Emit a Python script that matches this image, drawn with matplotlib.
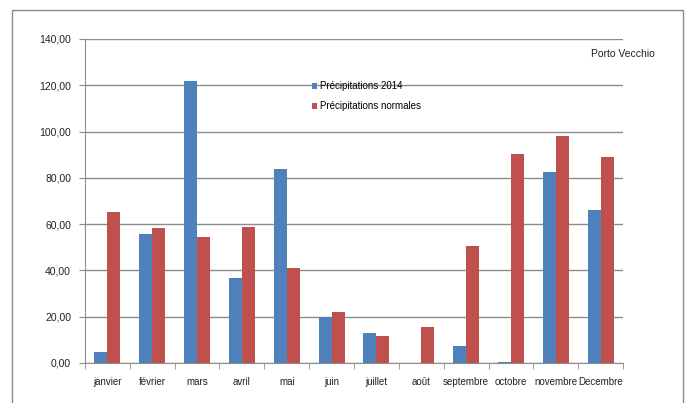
import matplotlib
matplotlib.use("Agg")
import matplotlib.pyplot as plt
from matplotlib.patches import Rectangle
import numpy as np

months = ["janvier", "février", "mars", "avril", "mai", "juin", "juillet",
          "août", "septembre", "octobre", "novembre", "Decembre"]
precip_2014 = [4.8, 55.6, 122.0, 36.6, 84.0, 20.0, 12.8, 0.0, 7.5, 0.3, 82.5, 66.0]
precip_normal = [65.2, 58.2, 54.4, 58.8, 40.9, 21.9, 11.8, 15.7, 50.6, 90.1, 98.3, 89.0]
yticks = [0, 20, 40, 60, 80, 100, 120, 140]

plt.rcParams["font.family"] = ["Liberation Sans", "DejaVu Sans"]

W, H = 689, 403
fig = plt.figure(figsize=(W / 100, H / 100), dpi=100)
fig.patch.set_facecolor("white")

# outer chart frame
fig.patches.append(Rectangle((12 / W, -0.05), (683 - 12) / W, 1.05 - 10 / H,
                             transform=fig.transFigure, fill=False,
                             edgecolor="#8c8c8c", linewidth=1.0))

ax = fig.add_axes([85 / W, 1 - 363 / H, (623 - 85) / W, (363 - 39) / H])

blue = "#4f81bd"
red = "#c0504d"
x = np.arange(len(months))
bw = 0.29
ax.bar(x - bw / 2, precip_2014, bw, color=blue, label="Précipitations 2014", zorder=3)
ax.bar(x + bw / 2, precip_normal, bw, color=red, label="Précipitations normales", zorder=3)

ax.set_xlim(-0.5, len(months) - 0.5)
ax.set_ylim(0, 140)
ax.set_yticks(yticks)
ax.set_yticklabels([f"{v:.2f}".replace(".", ",") for v in yticks], fontsize=7.5, color="#222222")
ax.yaxis.grid(True, color="#8c8c8c", linewidth=1.0, zorder=0)
ax.set_axisbelow(True)

ax.set_xticks(x)
ax.set_xticklabels(months, fontsize=7, color="#222222")
ax.tick_params(axis="x", length=0, pad=10)
ax.set_xticks(np.arange(-0.5, len(months)), minor=True)
ax.tick_params(axis="x", which="minor", length=4, color="#8c8c8c", direction="out")
ax.tick_params(axis="y", length=4, color="#8c8c8c", pad=6)

for s in ["top", "right"]:
    ax.spines[s].set_visible(False)
ax.spines["left"].set_color("#8c8c8c")
ax.spines["bottom"].set_color("#8c8c8c")

ax.text(0.94, 0.955, "Porto Vecchio", transform=ax.transAxes, fontsize=7.5,
        ha="left", va="center", color="#222222")

leg = ax.legend(loc="upper left", bbox_to_anchor=(0.405, 0.896), frameon=False,
                fontsize=7, handlelength=0.6, handleheight=0.6,
                handletextpad=0.3, labelspacing=1.0)

fig.savefig("out.png", dpi=100)
